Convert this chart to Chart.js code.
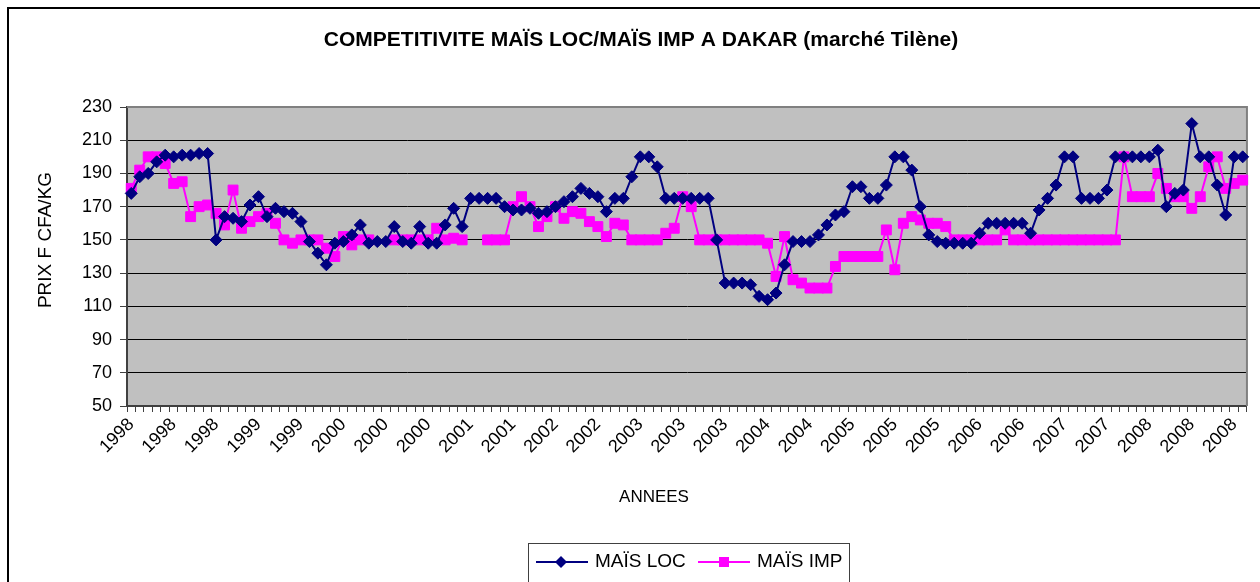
<!DOCTYPE html>
<html>
<head>
<meta charset="utf-8">
<script src="https://cdn.jsdelivr.net/npm/chart.js@4/dist/chart.umd.min.js"></script>
<style>
  html, body { margin: 0; padding: 0; background: #ffffff; }
  canvas { display: block; }
</style>
</head>
<body>
<canvas id="c" width="1260" height="582"></canvas>
<script>
// ---- DATA ----
const years = ['1998','1999','2000','2001','2002','2003','2004','2005','2006','2007','2008'];
const monthsPerYear = 12;
const categories = years.flatMap(y => Array(monthsPerYear).fill(y));

const maisLoc = [
  178,188,190,197,201,200,201,201,202,202,150,164,
  163,161,171,176,164,169,167,166,161,149,142,135,
  148,149,153,159,148,149,149,158,149,148,158,148,
  148,159,169,158,175,175,175,175,170,168,168,169,
  166,167,170,173,176,181,178,176,167,175,175,188,
  200,200,194,175,175,175,175,175,175,150,124,124,
  124,123,116,114,118,135,149,149,149,153,159,165,
  167,182,182,175,175,183,200,200,192,170,153,149,
  148,148,148,148,154,160,160,160,160,160,154,168,
  175,183,200,200,175,175,175,180,200,200,200,200,
  200,204,170,178,180,220,200,200,183,165,200,200
];

const maisImp = [
  181,192,200,200,196,184,185,164,170,171,166,159,
  180,157,161,164,166,160,150,148,150,150,150,145,
  140,152,147,150,150,null,null,150,150,150,150,150,
  157,150,151,150,null,null,150,150,150,170,176,170,
  158,164,170,163,167,166,161,158,152,160,159,150,
  150,150,150,154,157,176,170,150,150,150,150,150,
  150,150,150,148,128,152,126,124,121,121,121,134,
  140,140,140,140,140,156,132,160,164,162,160,160,
  158,150,150,150,150,150,150,156,150,150,150,150,
  150,150,150,150,150,150,150,150,150,200,176,176,
  176,190,181,176,176,169,176,194,200,181,184,186
];

const yTicks = [50,70,90,110,130,150,170,190,210,230];
const labelEvery = 5;

const titleText = 'COMPETITIVITE MAÏS LOC/MAÏS IMP A DAKAR (marché Tilène)';
const yTitleText = 'PRIX F CFA/KG';
const xTitleText = 'ANNEES';
const seriesNames = ['MAÏS LOC', 'MAÏS IMP'];

// ---- STYLE ----
const FONT = "'Liberation Sans', Arial, sans-serif";
const NAVY = '#000080';
const MAGENTA = '#FF00FF';

const decor = {
  id: 'decor',
  beforeDraw(chart) {
    const {ctx, chartArea: a} = chart;
    ctx.save();
    ctx.fillStyle = '#C0C0C0';
    ctx.fillRect(a.left, a.top, a.right - a.left, a.bottom - a.top);
    ctx.restore();
  },
  beforeDatasetsDraw(chart) {
    const {ctx, chartArea: a} = chart;
    ctx.save();
    ctx.strokeStyle = '#808080';
    ctx.lineWidth = 2;
    ctx.beginPath();
    ctx.moveTo(a.left, a.top); ctx.lineTo(a.right, a.top); ctx.lineTo(a.right, a.bottom);
    ctx.stroke();
    ctx.restore();
  },
  afterDraw(chart) {
    const {ctx} = chart;
    ctx.save();
    // outer frame (left & top visible)
    ctx.strokeStyle = '#000';
    ctx.lineWidth = 2;
    ctx.beginPath();
    ctx.moveTo(8, 600); ctx.lineTo(8, 8); ctx.lineTo(1270, 8);
    ctx.stroke();

    ctx.fillStyle = '#000';
    ctx.textBaseline = 'middle';
    // title
    ctx.font = 'bold 21px ' + FONT;
    ctx.textAlign = 'center';
    ctx.fillText(titleText, 641, 40);
    // x title
    ctx.font = '17px ' + FONT;
    ctx.fillText(xTitleText, 654, 497);
    // y title
    ctx.save();
    ctx.translate(46, 240);
    ctx.rotate(-Math.PI / 2);
    ctx.font = '19px ' + FONT;
    ctx.fillText(yTitleText, 0, 0);
    ctx.restore();

    // legend
    ctx.strokeStyle = '#404040';
    ctx.lineWidth = 1;
    ctx.strokeRect(528.5, 543.5, 321, 60);
    ctx.font = '19px ' + FONT;
    ctx.textAlign = 'left';
    // LOC
    ctx.strokeStyle = NAVY; ctx.lineWidth = 2;
    ctx.beginPath(); ctx.moveTo(536, 562); ctx.lineTo(588, 562); ctx.stroke();
    ctx.fillStyle = NAVY;
    ctx.beginPath(); ctx.moveTo(561, 556); ctx.lineTo(567, 562); ctx.lineTo(561, 568); ctx.lineTo(555, 562); ctx.closePath(); ctx.fill();
    ctx.fillStyle = '#000';
    ctx.fillText(seriesNames[0], 595, 562);
    // IMP
    ctx.strokeStyle = MAGENTA;
    ctx.beginPath(); ctx.moveTo(698, 562); ctx.lineTo(750, 562); ctx.stroke();
    ctx.fillStyle = MAGENTA;
    ctx.fillRect(719, 557, 10, 10);
    ctx.fillStyle = '#000';
    ctx.fillText(seriesNames[1], 757, 562);
    ctx.restore();
  }
};

new Chart(document.getElementById('c'), {
  type: 'line',
  data: {
    labels: categories,
    datasets: [
      {
        label: seriesNames[0],
        data: maisLoc,
        borderColor: NAVY,
        backgroundColor: NAVY,
        borderWidth: 2,
        pointStyle: 'rectRot',
        pointRadius: 6,
        pointBorderWidth: 1,
        pointBackgroundColor: NAVY,
        pointBorderColor: NAVY,
        tension: 0,
        spanGaps: false
      },
      {
        label: seriesNames[1],
        data: maisImp,
        borderColor: MAGENTA,
        backgroundColor: MAGENTA,
        borderWidth: 2,
        pointStyle: 'rect',
        pointRadius: 7,
        pointBorderWidth: 1,
        pointBackgroundColor: MAGENTA,
        pointBorderColor: MAGENTA,
        tension: 0,
        spanGaps: false
      }
    ]
  },
  options: {
    responsive: false,
    animation: false,
    devicePixelRatio: 1,
    layout: { padding: { left: 8, top: 107, right: 6, bottom: 0 } },
    plugins: {
      legend: { display: false },
      title: { display: false },
      tooltip: { enabled: false }
    },
    scales: {
      x: {
        type: 'category',
        offset: true,
        afterFit: s => { s.height = 176; },
        grid: {
          display: true,
          offset: true,
          drawOnChartArea: false,
          drawTicks: true,
          tickLength: 6,
          tickColor: '#404040',
          tickWidth: 1
        },
        border: { display: true, color: '#404040', width: 2 },
        ticks: {
          autoSkip: false,
          maxRotation: 45,
          minRotation: 45,
          padding: 2,
          color: '#000',
          font: { family: FONT, size: 18 },
          callback: (v, i) => (i % labelEvery === 0 ? categories[i] : '')
        }
      },
      y: {
        min: yTicks[0],
        max: yTicks[yTicks.length - 1],
        afterFit: s => { s.width = 119; },
        afterBuildTicks: s => { s.ticks = yTicks.map(v => ({ value: v })); },
        grid: {
          color: '#000',
          lineWidth: 1,
          drawTicks: true,
          tickLength: 7,
          tickColor: '#404040'
        },
        border: { display: true, color: '#404040', width: 2 },
        ticks: {
          padding: 8,
          color: '#000',
          font: { family: FONT, size: 18 }
        }
      }
    }
  },
  plugins: [decor]
});
</script>
</body>
</html>
